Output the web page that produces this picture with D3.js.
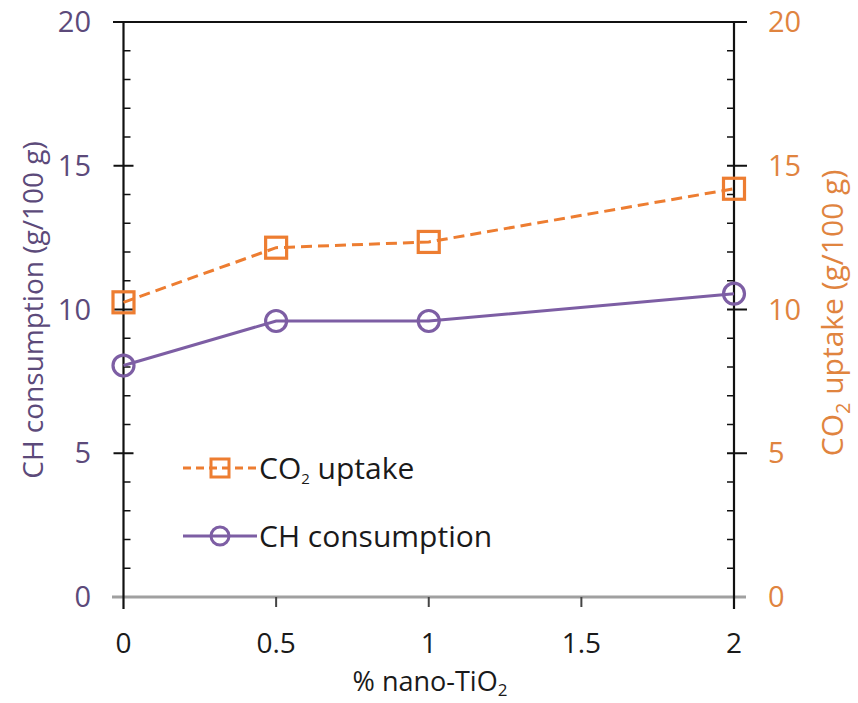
<!DOCTYPE html>
<html>
<head>
<meta charset="utf-8">
<script src="https://cdn.jsdelivr.net/npm/d3@7"></script>
<style>
  body { margin: 0; background: #fff; }
  text { font-family: "Open Sans", sans-serif; }
</style>
</head>
<body>
<div id="chart"></div>
<script>
// data
var nanoTiO2 = [0, 0.5, 1, 2];
var co2Uptake = [10.25, 12.15, 12.35, 14.2];
var chConsumption = [8.05, 9.6, 9.6, 10.55];
var xTicks = [0, 0.5, 1, 1.5, 2];
var yTicks = [0, 5, 10, 15, 20];

var purple = "#7d5ea4", purpleText = "#5c4a7a";
var orange = "#ed7d31", orangeText = "#e0843f";

var width = 858, height = 703;
var svg = d3.select("#chart").append("svg")
  .attr("width", width).attr("height", height);

var x = d3.scaleLinear().domain([0, 2]).range([123.5, 734]);
var yL = d3.scaleLinear().domain([0, 20]).range([597, 22]);
var yR = d3.scaleLinear().domain([0, 20]).range([597, 22]);

// x axis line (gray)
svg.append("line")
  .attr("x1", 112).attr("x2", 746).attr("y1", yL(0)).attr("y2", yL(0))
  .attr("stroke", "#a0a0a0").attr("stroke-width", 3);
// top border
svg.append("line")
  .attr("x1", 113).attr("x2", 747).attr("y1", yL(20)).attr("y2", yL(20))
  .attr("stroke", "#111").attr("stroke-width", 2);

// x ticks
svg.selectAll(".xtick").data(xTicks.filter(function (d) { return d > 0 && d < 2; }))
  .enter().append("line")
  .attr("x1", function (d) { return x(d); }).attr("x2", function (d) { return x(d); })
  .attr("y1", yL(0)).attr("y2", yL(0) + 10)
  .attr("stroke", "#444").attr("stroke-width", 2);

// vertical axes
[x(0), x(2)].forEach(function (xp) {
  svg.append("line")
    .attr("x1", xp).attr("x2", xp).attr("y1", yL(20)).attr("y2", yL(0) + 12)
    .attr("stroke", "#111").attr("stroke-width", 2.2);
});

// minor ticks (inside)
var minor = d3.range(1, 20).filter(function (d) { return d % 5 !== 0; });
svg.selectAll(".minL").data(minor).enter().append("line")
  .attr("x1", x(0)).attr("x2", x(0) + 7)
  .attr("y1", function (d) { return yL(d); }).attr("y2", function (d) { return yL(d); })
  .attr("stroke", "#111").attr("stroke-width", 1.5);
svg.selectAll(".minR").data(minor).enter().append("line")
  .attr("x1", x(2) - 7).attr("x2", x(2))
  .attr("y1", function (d) { return yR(d); }).attr("y2", function (d) { return yR(d); })
  .attr("stroke", "#111").attr("stroke-width", 1.5);
// major ticks (cross)
svg.selectAll(".majL").data(yTicks.slice(1, 4)).enter().append("line")
  .attr("x1", x(0) - 10).attr("x2", x(0) + 10)
  .attr("y1", function (d) { return yL(d); }).attr("y2", function (d) { return yL(d); })
  .attr("stroke", "#111").attr("stroke-width", 2);
svg.selectAll(".majR").data(yTicks.slice(1, 4)).enter().append("line")
  .attr("x1", x(2) - 7).attr("x2", x(2) + 13)
  .attr("y1", function (d) { return yR(d); }).attr("y2", function (d) { return yR(d); })
  .attr("stroke", "#111").attr("stroke-width", 2);

// tick labels
svg.selectAll(".yl").data(yTicks).enter().append("text")
  .attr("x", 91).attr("y", function (d) { return yL(d); })
  .attr("dy", "0.35em").attr("text-anchor", "end")
  .attr("font-size", 29).attr("fill", purpleText)
  .text(function (d) { return d; });
svg.selectAll(".yr").data(yTicks).enter().append("text")
  .attr("x", 768).attr("y", function (d) { return yR(d); })
  .attr("dy", "0.35em").attr("text-anchor", "start")
  .attr("font-size", 29).attr("fill", orangeText)
  .text(function (d) { return d; });
svg.selectAll(".xl").data(xTicks).enter().append("text")
  .attr("x", function (d) { return x(d); }).attr("y", 653)
  .attr("text-anchor", "middle")
  .attr("font-size", 28).attr("fill", "#1a1a1a")
  .text(function (d) { return d; });

// axis titles
svg.append("text")
  .attr("transform", "translate(43,310) rotate(-90)")
  .attr("text-anchor", "middle").attr("font-size", 28).attr("fill", purpleText)
  .text("CH consumption (g/100 g)");
var rt = svg.append("text")
  .attr("transform", "translate(843,313) rotate(-90)")
  .attr("text-anchor", "middle").attr("font-size", 30).attr("fill", orangeText);
rt.append("tspan").text("CO");
rt.append("tspan").attr("font-size", 20).attr("dy", 7).text("2");
rt.append("tspan").attr("dy", -7).text(" uptake (g/100 g)");

var xt = svg.append("text")
  .attr("x", 430).attr("y", 691)
  .attr("text-anchor", "middle").attr("font-size", 27).attr("fill", "#1a1a1a");
xt.append("tspan").text("% nano-TiO");
xt.append("tspan").attr("font-size", 17).attr("dy", 5).text("2");

// series lines
var lineCO2 = d3.line()
  .x(function (d, i) { return x(nanoTiO2[i]); })
  .y(function (d) { return yR(d); });
var lineCH = d3.line()
  .x(function (d, i) { return x(nanoTiO2[i]); })
  .y(function (d) { return yL(d); });

svg.append("path").datum(co2Uptake).attr("d", lineCO2)
  .attr("fill", "none").attr("stroke", orange).attr("stroke-width", 3)
  .attr("stroke-dasharray", "11,6");
svg.append("path").datum(chConsumption).attr("d", lineCH)
  .attr("fill", "none").attr("stroke", purple).attr("stroke-width", 3);

var ms = 21;
svg.selectAll(".sq").data(co2Uptake).enter().append("rect")
  .attr("x", function (d, i) { return x(nanoTiO2[i]) - ms / 2; })
  .attr("y", function (d) { return yR(d) - ms / 2; })
  .attr("width", ms).attr("height", ms)
  .attr("fill", "none").attr("stroke", orange).attr("stroke-width", 3.2);
svg.selectAll(".ci").data(chConsumption).enter().append("circle")
  .attr("cx", function (d, i) { return x(nanoTiO2[i]); })
  .attr("cy", function (d) { return yL(d); })
  .attr("r", ms / 2)
  .attr("fill", "none").attr("stroke", purple).attr("stroke-width", 3.2);

// legend
var lg = svg.append("g");
var lgY1 = 468, lgY2 = 536, lx1 = 183, lx2 = 257, lm = 220, lms = 18;
lg.append("line").attr("x1", lx1).attr("x2", lx2).attr("y1", lgY1).attr("y2", lgY1)
  .attr("stroke", orange).attr("stroke-width", 3).attr("stroke-dasharray", "8,5");
lg.append("rect").attr("x", lm - lms / 2).attr("y", lgY1 - lms / 2)
  .attr("width", lms).attr("height", lms)
  .attr("fill", "none").attr("stroke", orange).attr("stroke-width", 3);
lg.append("line").attr("x1", lx1).attr("x2", lx2).attr("y1", lgY2).attr("y2", lgY2)
  .attr("stroke", purple).attr("stroke-width", 3);
lg.append("circle").attr("cx", lm).attr("cy", lgY2).attr("r", lms / 2)
  .attr("fill", "none").attr("stroke", purple).attr("stroke-width", 3);

var t1 = lg.append("text").attr("x", 259).attr("y", lgY1).attr("dy", "0.35em")
  .attr("font-size", 30).attr("fill", "#1a1a1a");
t1.append("tspan").text("CO");
t1.append("tspan").attr("font-size", 15).attr("dy", 5).text("2");
t1.append("tspan").attr("dy", -5).text(" uptake");
lg.append("text").attr("x", 259).attr("y", lgY2).attr("dy", "0.35em")
  .attr("font-size", 30).attr("fill", "#1a1a1a")
  .text("CH consumption");
</script>
</body>
</html>
